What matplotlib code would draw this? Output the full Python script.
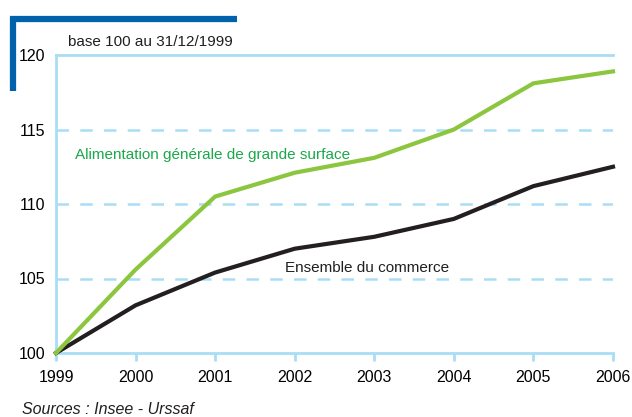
# -*- coding: utf-8 -*- #
import matplotlib
matplotlib.use("Agg")
from matplotlib import pyplot
from matplotlib.lines import Line2D

years = [1999, 2000, 2001, 2002, 2003, 2004, 2005, 2006]
alimentation = [100.0, 105.6, 110.5, 112.1, 113.1, 115.0, 118.1, 118.9]
commerce = [100.0, 103.2, 105.4, 107.0, 107.8, 109.0, 111.2, 112.5]
y_ticks = [100, 105, 110, 115, 120]

LIGHT = "#a9ddf6"
GREEN = "#8cc63f"
DARK_BLUE = "#0062ac"
FS = 11


def main():
    pyplot.rcParams["font.family"] = ["Liberation Sans", "DejaVu Sans"]
    fig = pyplot.figure(figsize=[6.32, 4.17], dpi=100)
    ax = fig.add_axes([56 / 632, 1 - 353 / 417, 557 / 632, 298 / 417])

    ax.set_xlim(1999, 2006)
    ax.set_ylim(100, 120)
    ax.set_xticks(years)
    ax.set_yticks(y_ticks)
    ax.tick_params(axis="x", length=6, width=2, color=LIGHT, direction="out",
                   labelsize=FS + 0.5, pad=6)
    ax.tick_params(axis="y", length=0, labelsize=FS + 0.5, pad=8)

    ax.spines["right"].set_visible(False)
    for s in ["left", "bottom", "top"]:
        ax.spines[s].set_color(LIGHT)
        ax.spines[s].set_linewidth(2)

    for v in y_ticks[1:-1]:
        ax.axhline(v, color=LIGHT, lw=1.8, dashes=(5, 4.5), zorder=1)

    ax.plot(years, commerce, color="#231f20", lw=3, zorder=3, clip_on=False)
    ax.plot(years, alimentation, color=GREEN, lw=3, zorder=3, clip_on=False)

    ax.text(1999.24, 113.3, "Alimentation générale de grande surface",
            color="#1aa84b", fontsize=FS, va="center")
    ax.text(2001.88, 105.7, "Ensemble du commerce", color="#231f20",
            fontsize=FS, va="center")

    fig.text(68 / 632, 1 - 42 / 417, "base 100 au 31/12/1999",
             fontsize=FS, va="center", color="#231f20")
    fig.text(22 / 632, 1 - 410 / 417, "Sources : Insee - Urssaf",
             fontsize=FS + 0.5, style="italic", va="center", color="#231f20")

    # bracket in the top left corner
    fig.add_artist(Line2D([10 / 632, 237 / 632], [1 - 19 / 417, 1 - 19 / 417],
                          color=DARK_BLUE, lw=4.5, solid_capstyle="butt"))
    fig.add_artist(Line2D([12.5 / 632, 12.5 / 632], [1 - 17 / 417, 1 - 91 / 417],
                          color=DARK_BLUE, lw=4.5, solid_capstyle="butt"))

    fig.savefig("out.png", dpi=100)


if __name__ == '__main__':
    main()
